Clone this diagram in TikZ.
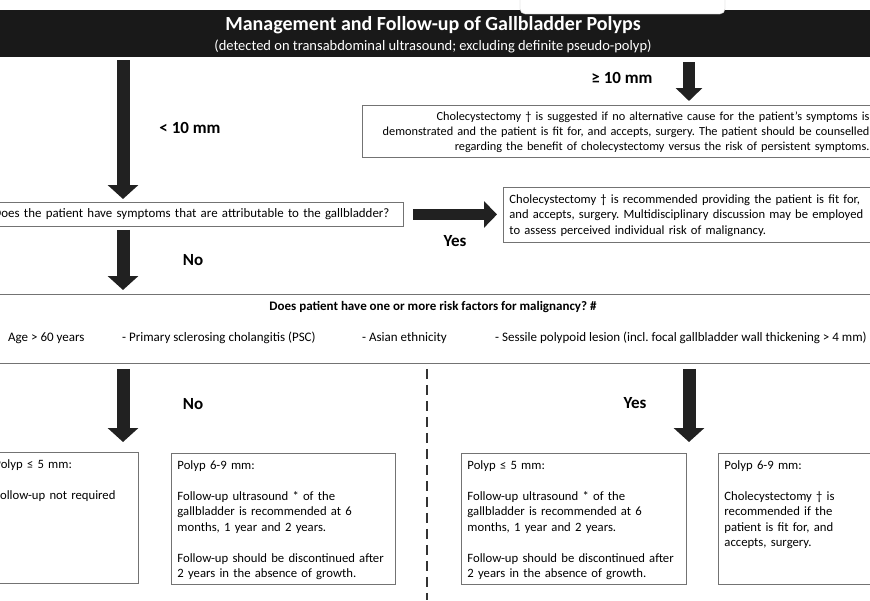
\documentclass[tikz,border=0pt]{standalone}
\usepackage{fontspec}
\setmainfont{Carlito}
\usepackage{tikz}
\usetikzlibrary{arrows.meta,calc,positioning}
\frenchspacing
\tikzstyle{chart}=[
  x=1pt,y=-1pt,font=\fontsize{12.7}{15.5}\selectfont
]
\tikzstyle{box}=[
  draw=black!55,line width=0.9pt,fill=white,anchor=north west,align=left
]
\tikzstyle{polyp}=[
  box,inner xsep=6pt,inner ysep=5pt,text height=11pt,text depth=110pt
]
\tikzstyle{bigarrow}=[
  draw=black!87,line width=13pt,-{Triangle[width=30pt,length=14pt]}
]
\tikzstyle{midarrow}=[
  draw=black!87,line width=11.5pt,-{Triangle[width=26pt,length=13pt]}
]
\tikzstyle{branch}=[
  font=\fontsize{17}{20}\selectfont\bfseries
]
\tikzstyle{factor}=[
  anchor=west,inner sep=0pt,font=\fontsize{13}{15}\selectfont
]

\begin{document}
\begin{tikzpicture}[chart]
    \useasboundingbox (0,0) rectangle (870,600);
    \clip (0,0) rectangle (870,600);
      % title bar
      \node (title) at (433,33.5) [fill=black!90,minimum width=890pt,minimum height=47pt,inner sep=0pt] {};
      \node (head) at (433,25) [text=white,font=\fontsize{20}{22}\selectfont\bfseries] {Management and Follow-up of Gallbladder Polyps};
      \node (sub) at (433,46) [text=white,font=\fontsize{14.5}{16}\selectfont] {(detected on transabdominal ultrasound; excluding definite pseudo-polyp)};
      \draw [fill=white,draw=black!25,rounded corners=5pt] (520,-10) rectangle (725,14);
      \coordinate (lx) at (123,0);
      \coordinate (rx) at (689,0);
      % first split
      \node (big) at (362,105) [box,inner xsep=4pt,inner ysep=5pt,text width=503pt,align=right,text height=10pt,text depth=32pt,font=\fontsize{12.3}{15}\selectfont]
        {Cholecystectomy \textdagger{} is suggested if no alternative cause for the patient’s symptoms is\\
         demonstrated and the patient is fit for, and accepts, surgery. The patient should be counselled\\
         regarding the benefit of cholecystectomy versus the risk of persistent symptoms.};
      \node (q) at (-12,202) [box,inner xsep=5pt,inner ysep=0pt,text width=405pt,minimum height=24pt,font=\fontsize{12.9}{15}\selectfont]
        {Does the patient have symptoms that are attributable to the gallbladder?};
      \node (sym) at (503,187) [box,inner xsep=6pt,inner ysep=5pt,text width=365pt,text height=11pt,text depth=34pt,font=\fontsize{12.6}{15.5}\selectfont]
        {Cholecystectomy \textdagger{} is recommended providing the patient is fit for,\\
         and accepts, surgery. Multidisciplinary discussion may be employed\\
         to assess perceived individual risk of malignancy.};
      \node at (190,128) [branch] {< 10 mm};
      \node at (622,78) [branch] {≥ 10 mm};
      \node at (455,241) [branch] {Yes};
      \node at (193,260) [branch] {No};
      % risk factors
      \node (risk) at (-10,294) [box,minimum width=890pt,minimum height=69pt,inner sep=0pt] {};
      \node at (433,307) [font=\fontsize{13}{15}\selectfont\bfseries] {Does patient have one or more risk factors for malignancy? \#};
      \node at (8,338) [factor] {Age > 60 years};
      \node at (122,338) [factor] {- Primary sclerosing cholangitis (PSC)};
      \node at (362,338) [factor] {- Asian ethnicity};
      \node at (495,338) [factor] {- Sessile polypoid lesion (incl. focal gallbladder wall thickening > 4 mm)};
      \node at (193,404) [branch] {No};
      \node at (635,403) [branch] {Yes};
      % polyp size boxes
      \node (pa) at (-12,452) [polyp,text width=138pt]
        {Polyp ≤ 5 mm:\\[15.5pt]
         Follow-up not required};
      \node (pb) at (171,453) [polyp,text width=212pt]
        {Polyp 6-9 mm:\\[15.5pt]
         Follow-up ultrasound * of the\\
         gallbladder is recommended at 6\\
         months, 1 year and 2 years.\\[15.5pt]
         Follow-up should be discontinued after\\
         2 years in the absence of growth.};
      \node (pc) at (461,453) [polyp,text width=213pt]
        {Polyp ≤ 5 mm:\\[15.5pt]
         Follow-up ultrasound * of the\\
         gallbladder is recommended at 6\\
         months, 1 year and 2 years.\\[15.5pt]
         Follow-up should be discontinued after\\
         2 years in the absence of growth.};
      \node (pd) at (718,453) [polyp,text width=150pt]
        {Polyp 6-9 mm:\\[15.5pt]
         Cholecystectomy \textdagger{} is\\
         recommended if the\\
         patient is fit for, and\\
         accepts, surgery.};
      \coordinate (dend) at (427,600);
      % connectors
      \draw [bigarrow,shorten <=3pt,shorten >=3pt] (title.south -| lx) -- (q.north -| lx);
      \draw [midarrow,shorten <=5pt,shorten >=4pt] (title.south -| rx) -- (big.north -| rx);
      \draw [midarrow,shorten <=9pt,shorten >=6pt] (q.east) -- (q.east -| sym.west);
      \draw [bigarrow,shorten <=3pt,shorten >=4pt] (q.south -| lx) -- (risk.north -| lx);
      \draw [bigarrow,shorten <=5pt,shorten >=10pt] (risk.south -| lx) -- (pa.north -| lx);
      \draw [bigarrow,shorten <=5pt,shorten >=11pt] (risk.south -| rx) -- (pc.north -| rx);
      \draw [black!80,line width=1.6pt,dash pattern=on 10pt off 6pt,shorten <=5pt] (risk.south -| dend) -- (dend);
    \end{tikzpicture}
\end{document}
